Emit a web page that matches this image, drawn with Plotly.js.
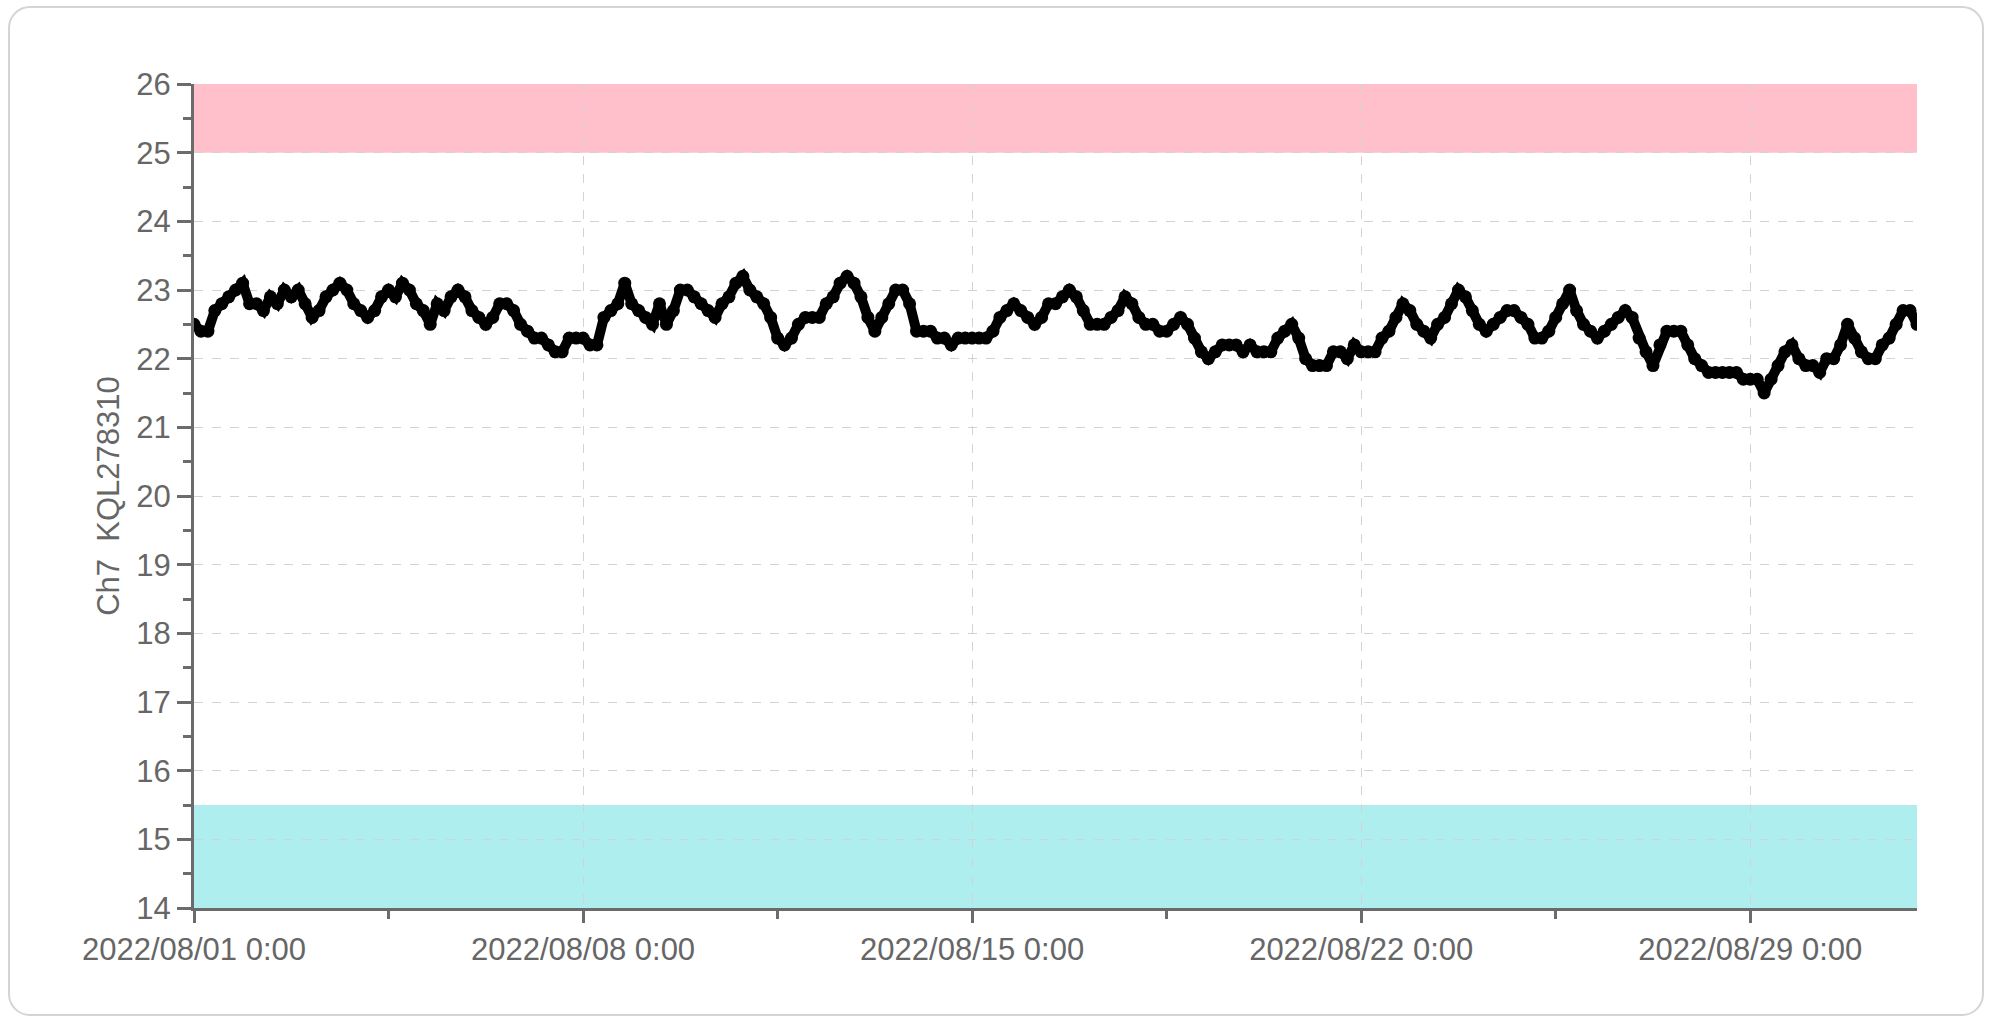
<!DOCTYPE html>
<html><head><meta charset="utf-8">
<script src="https://cdn.plot.ly/plotly-3.0.1.min.js"></script>
<style>
html,body{margin:0;padding:0;background:#fff;}
#frame{position:absolute;left:8px;top:6px;width:1976px;height:1010px;border:2px solid #d4d4d4;border-radius:22px;box-sizing:border-box;}
#chart{position:absolute;left:0;top:0;width:1993px;height:1019px;}
</style></head><body>
<div id="frame"></div><div id="chart"></div>
<script>
// Sampling: one reading every 3 hours starting at startTime
const startTime = '2022-08-01T00:00:00';
const stepHours = 3;
const values = [
 22.5,22.4,22.4,22.7,22.8,22.9,23.0,23.1,
 22.8,22.8,22.7,22.9,22.8,23.0,22.9,23.0,
 22.8,22.6,22.7,22.9,23.0,23.1,23.0,22.8,
 22.7,22.6,22.7,22.9,23.0,22.9,23.1,23.0,
 22.8,22.7,22.5,22.8,22.7,22.9,23.0,22.9,
 22.7,22.6,22.5,22.6,22.8,22.8,22.7,22.5,
 22.4,22.3,22.3,22.2,22.1,22.1,22.3,22.3,
 22.3,22.2,22.2,22.6,22.7,22.8,23.1,22.8,
 22.7,22.6,22.5,22.8,22.5,22.7,23.0,23.0,
 22.9,22.8,22.7,22.6,22.8,22.9,23.1,23.2,
 23.0,22.9,22.8,22.6,22.3,22.2,22.3,22.5,
 22.6,22.6,22.6,22.8,22.9,23.1,23.2,23.1,
 22.9,22.6,22.4,22.6,22.8,23.0,23.0,22.8,
 22.4,22.4,22.4,22.3,22.3,22.2,22.3,22.3,
 22.3,22.3,22.3,22.4,22.6,22.7,22.8,22.7,
 22.6,22.5,22.6,22.8,22.8,22.9,23.0,22.9,
 22.7,22.5,22.5,22.5,22.6,22.7,22.9,22.8,
 22.6,22.5,22.5,22.4,22.4,22.5,22.6,22.5,
 22.3,22.1,22.0,22.1,22.2,22.2,22.2,22.1,
 22.2,22.1,22.1,22.1,22.3,22.4,22.5,22.3,
 22.0,21.9,21.9,21.9,22.1,22.1,22.0,22.2,
 22.1,22.1,22.1,22.3,22.4,22.6,22.8,22.7,
 22.5,22.4,22.3,22.5,22.6,22.8,23.0,22.9,
 22.7,22.5,22.4,22.5,22.6,22.7,22.7,22.6,
 22.5,22.3,22.3,22.4,22.6,22.8,23.0,22.7,
 22.5,22.4,22.3,22.4,22.5,22.6,22.7,22.6,
 22.3,22.1,21.9,22.2,22.4,22.4,22.4,22.2,
 22.0,21.9,21.8,21.8,21.8,21.8,21.8,21.7,
 21.7,21.7,21.5,21.7,21.9,22.1,22.2,22.0,
 21.9,21.9,21.8,22.0,22.0,22.2,22.5,22.3,
 22.1,22.0,22.0,22.2,22.3,22.5,22.7,22.7,
 22.5
];
const yTitle = 'Ch7\u00a0\u00a0KQL278310';
const xRange = ['2022-08-01 00:00', '2022-09-01 00:00'];
const yRange = [14, 26];
const upperBand = [25, 26];
const lowerBand = [14, 15.5];

function pad(n){return (n<10?'0':'')+n;}
const t0 = new Date(startTime + 'Z').getTime();
const times = values.map((v,i)=>{
  const d = new Date(t0 + i*stepHours*3600*1000);
  return d.getUTCFullYear()+'-'+pad(d.getUTCMonth()+1)+'-'+pad(d.getUTCDate())+' '+pad(d.getUTCHours())+':00';
});

const fontFam = 'Liberation Sans, Arial, sans-serif';
const axisCol = '#6b6b6b';
const textCol = '#666666';

const trace = {
  x: times, y: values, type: 'scatter', mode: 'lines+markers',
  line: {color: '#000', width: 10},
  marker: {color: '#000', size: 13},
  hoverinfo: 'x+y', showlegend: false
};

const layout = {
  width: 1993, height: 1019,
  margin: {l: 194, r: 76, t: 84, b: 111},
  paper_bgcolor: 'rgba(0,0,0,0)', plot_bgcolor: 'rgba(0,0,0,0)',
  font: {family: fontFam, color: textCol, size: 31},
  xaxis: {
    type: 'date', range: xRange,
    tick0: '2022-08-01', dtick: 7*24*3600*1000,
    tickformat: '%Y/%m/%d %-H:%M',
    ticks: 'outside', ticklen: 12, tickwidth: 3, tickcolor: axisCol,
    showline: true, linewidth: 3, linecolor: axisCol,
    showgrid: true, gridcolor: '#d3d3d3', griddash: 'dash', gridwidth: 1,
    zeroline: false,
    tickfont: {family: fontFam, size: 31, color: textCol},
    minor: {tick0: '2022-08-01', dtick: 3.5*24*3600*1000, ticks: 'outside', ticklen: 8, tickwidth: 3, tickcolor: axisCol, showgrid: false}
  },
  yaxis: {
    range: yRange, dtick: 1, tick0: 14,
    ticks: 'outside', ticklen: 14, tickwidth: 3, tickcolor: axisCol,
    showline: true, linewidth: 3, linecolor: axisCol,
    showgrid: true, gridcolor: '#d3d3d3', griddash: 'dash', gridwidth: 1,
    zeroline: false,
    tickfont: {family: fontFam, size: 31, color: textCol},
    title: {text: yTitle, font: {family: fontFam, size: 31, color: textCol}, standoff: 8},
    minor: {dtick: 0.5, ticks: 'outside', ticklen: 8, tickwidth: 3, tickcolor: axisCol, showgrid: false}
  },
  shapes: [
    {type: 'rect', xref: 'paper', yref: 'y', x0: 0, x1: 1, y0: upperBand[0], y1: upperBand[1], fillcolor: '#FFC0CB', line: {width: 0}, layer: 'below'},
    {type: 'rect', xref: 'paper', yref: 'y', x0: 0, x1: 1, y0: lowerBand[0], y1: lowerBand[1], fillcolor: '#AFEEEE', line: {width: 0}, layer: 'below'}
  ]
};

Plotly.newPlot('chart', [trace], layout, {displayModeBar: false, staticPlot: true});
</script>
</body></html>
